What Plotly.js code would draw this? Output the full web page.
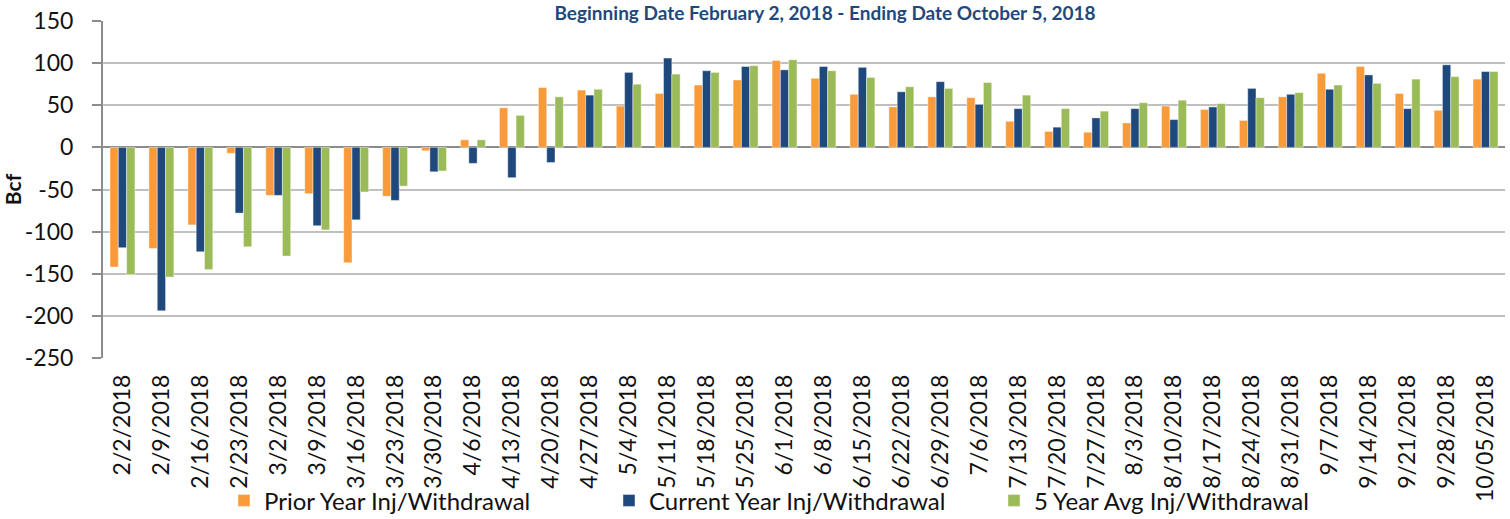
<!DOCTYPE html>
<html>
<head>
<meta charset="utf-8">
<script src="https://cdn.plot.ly/plotly-3.0.1.min.js"></script>
<style>
  html, body { margin: 0; padding: 0; background: #ffffff; }
  #chart { width: 1510px; height: 519px; }
</style>
</head>
<body>
<div id="chart"></div>
<script>
const weeks = ["2/2/2018","2/9/2018","2/16/2018","2/23/2018","3/2/2018","3/9/2018","3/16/2018","3/23/2018","3/30/2018",
  "4/6/2018","4/13/2018","4/20/2018","4/27/2018","5/4/2018","5/11/2018","5/18/2018","5/25/2018",
  "6/1/2018","6/8/2018","6/15/2018","6/22/2018","6/29/2018","7/6/2018","7/13/2018","7/20/2018","7/27/2018",
  "8/3/2018","8/10/2018","8/17/2018","8/24/2018","8/31/2018","9/7/2018","9/14/2018","9/21/2018","9/28/2018","10/05/2018"];

const priorYear = [-142,-120,-92,-7,-57,-55,-137,-58,-4,9,47,71,68,49,64,74,80,103,82,63,48,60,59,31,19,18,29,49,45,32,60,88,96,64,44,81];
const currentYear = [-119,-194,-124,-78,-57,-93,-86,-63,-29,-19,-36,-18,62,89,106,91,96,92,96,95,66,78,51,46,24,35,46,33,48,70,63,69,86,46,98,90];
const fiveYearAvg = [-151,-154,-145,-118,-129,-98,-53,-46,-28,9,38,60,69,75,87,89,97,104,91,83,72,70,77,62,46,43,53,56,52,59,65,74,76,81,84,90];

const seriesNames = ["Prior Year Inj/Withdrawal","Current Year Inj/Withdrawal","5 Year Avg Inj/Withdrawal"];
const seriesColors = ["#F99A3B","#1F497D","#9BBB59"];
const chartTitle = "Beginning Date February 2, 2018 - Ending Date October 5, 2018";
const yTickValues = [-250,-200,-150,-100,-50,0,50,100,150];
const yTickLabels = ["-250","-200","-150","-100","-50","0","50","100","150"];

const FONT = "Lato, 'Open Sans', 'DejaVu Sans', sans-serif";

const traces = [priorYear, currentYear, fiveYearAvg].map((vals, i) => ({
  type: "bar",
  name: seriesNames[i],
  x: weeks,
  y: vals,
  marker: { color: seriesColors[i], line: { color: "rgba(255,255,255,0.7)", width: 0.6 } },
  hoverinfo: "x+y+name"
}));

const layout = {
  width: 1510,
  height: 519,
  paper_bgcolor: "#ffffff",
  plot_bgcolor: "#ffffff",
  margin: { l: 103, r: 5, t: 21, b: 161, autoexpand: false },
  barmode: "group",
  bargap: 0.36,
  bargroupgap: 0,
  font: { family: FONT, color: "#111111" },
  title: {
    text: chartTitle,
    font: { family: FONT, size: 19, color: "#1F497D", weight: "bold" },
    x: 0.515,
    xref: "paper",
    xanchor: "center",
    yref: "paper",
    y: 1,
    yanchor: "bottom",
    pad: { b: 1 }
  },
  xaxis: {
    type: "category",
    tickangle: -90,
    tickfont: { family: FONT, size: 23, color: "#111111" },
    showgrid: false,
    showline: false,
    ticks: "",
    zeroline: false,
    automargin: false,
    ticklabelstandoff: 11,
    fixedrange: true
  },
  yaxis: {
    range: [-250, 150],
    tickvals: yTickValues,
    ticktext: yTickLabels,
    tickfont: { family: FONT, size: 23, color: "#111111" },
    showgrid: true,
    gridcolor: "#C0C0C0",
    gridwidth: 2,
    showline: true,
    linecolor: "#8C8C8C",
    linewidth: 2,
    ticks: "outside",
    ticklen: 9,
    tickwidth: 2,
    tickcolor: "#8C8C8C",
    ticklabelstandoff: 14,
    zeroline: true,
    zerolinecolor: "#8C8C8C",
    zerolinewidth: 2,
    automargin: false,
    title: { text: "Bcf", font: { family: FONT, size: 21, color: "#111111", weight: "bold" }, standoff: 4 },
    fixedrange: true
  },
  legend: {
    orientation: "h",
    x: 0.0863,
    xanchor: "left",
    y: -0.357,
    yanchor: "top",
    bgcolor: "rgba(0,0,0,0)",
    font: { family: FONT, size: 24, color: "#111111" },
    entrywidth: 340,
    itemwidth: 30,
    traceorder: "normal"
  },
  showlegend: true
};

Plotly.newPlot("chart", traces, layout, { displayModeBar: false, staticPlot: true });
</script>
</body>
</html>
